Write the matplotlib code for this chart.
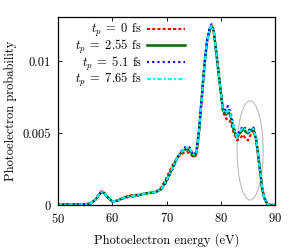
import matplotlib
matplotlib.use("Agg")
import matplotlib.pyplot as plt
from matplotlib.patches import Ellipse

plt.rcParams["font.family"] = "serif"
plt.rcParams["font.serif"] = ["cmr10"]
plt.rcParams["mathtext.fontset"] = "cm"
plt.rcParams["axes.formatter.use_mathtext"] = True
plt.rcParams["font.size"] = 9

# Photoelectron energy grid (eV)
energy = [50, 52, 54, 55, 56, 57, 57.5, 58, 58.5, 59, 60, 61, 62, 63, 64, 65,
          66, 67, 68, 69, 70, 71, 72, 73, 73.7, 74.3, 75, 75.5, 76, 76.5, 77,
          77.5, 78, 78.3, 78.7, 79.2, 79.8, 80.4, 81, 81.3, 81.8, 82.4, 83,
          83.5, 84.1, 84.6, 85, 85.5, 86, 86.5, 86.9, 87.3, 87.6, 88, 88.5,
          89, 90]

# t_p = 2.55 fs
prob_255 = [0.00003, 0.00004, 0.00005, 0.00006, 0.0001, 0.0004, 0.0007, 0.0009,
            0.00085, 0.0006, 0.00025, 0.0003, 0.0005, 0.0006, 0.00065, 0.0007,
            0.0008, 0.00085, 0.0009, 0.0011, 0.0017, 0.0025, 0.0033, 0.0038,
            0.0039, 0.0038, 0.0034, 0.0036, 0.0052, 0.0075, 0.0098, 0.0115,
            0.0123, 0.0125, 0.0121, 0.0105, 0.0085, 0.0066, 0.0063, 0.0066,
            0.0062, 0.0052, 0.0047, 0.0050, 0.0053, 0.0051, 0.0050, 0.0052,
            0.0053, 0.0046, 0.0034, 0.0022, 0.0012, 0.0005, 0.0001, 0.0, 0.0]

# t_p = 0 fs
prob_0 = [0.00003, 0.00004, 0.00005, 0.00006, 0.0001, 0.0004, 0.0007, 0.00095,
          0.0009, 0.0006, 0.00025, 0.0003, 0.0005, 0.00065, 0.0007, 0.00072,
          0.0008, 0.00085, 0.0009, 0.0012, 0.0019, 0.0027, 0.0033, 0.0036,
          0.0037, 0.0036, 0.0033, 0.0035, 0.0051, 0.0075, 0.0098, 0.0115,
          0.0122, 0.0124, 0.0121, 0.0106, 0.0086, 0.0065, 0.0060, 0.0060,
          0.0058, 0.0050, 0.0045, 0.0046, 0.0049, 0.0046, 0.0045, 0.0049,
          0.0052, 0.0046, 0.0034, 0.0022, 0.0012, 0.0005, 0.0001, 0.0, 0.0]

# t_p = 5.1 fs
prob_51 = [0.00003, 0.00004, 0.00005, 0.00006, 0.0001, 0.0004, 0.0007, 0.00088,
           0.00085, 0.0006, 0.00025, 0.0003, 0.00045, 0.00055, 0.0006, 0.00068,
           0.0008, 0.00085, 0.0009, 0.0011, 0.0016, 0.0024, 0.0033, 0.0039,
           0.0041, 0.0040, 0.0035, 0.0037, 0.0053, 0.0076, 0.0099, 0.0116,
           0.0124, 0.0126, 0.0122, 0.0105, 0.0085, 0.0067, 0.0066, 0.0069,
           0.0065, 0.0054, 0.0048, 0.0052, 0.0055, 0.0053, 0.0052, 0.0053,
           0.0054, 0.0046, 0.0034, 0.0022, 0.0012, 0.0005, 0.0001, 0.0, 0.0]

# t_p = 7.65 fs
prob_765 = [0.00003, 0.00004, 0.00005, 0.00006, 0.0001, 0.0004, 0.0007, 0.0009,
            0.00085, 0.0006, 0.00025, 0.0003, 0.0005, 0.0006, 0.00065, 0.0007,
            0.0008, 0.00085, 0.0009, 0.0011, 0.0017, 0.0025, 0.0033, 0.0038,
            0.0040, 0.0039, 0.0035, 0.0036, 0.0052, 0.0075, 0.0098, 0.0115,
            0.0123, 0.0125, 0.0121, 0.0105, 0.0085, 0.0066, 0.0064, 0.0067,
            0.0063, 0.0053, 0.0047, 0.0051, 0.0054, 0.0052, 0.0051, 0.0052,
            0.0053, 0.0046, 0.0034, 0.0022, 0.0012, 0.0005, 0.0001, 0.0, 0.0]

labels = [r"$t_p\;=\;0$ fs", r"$t_p\;=\;2.55$ fs", r"$t_p\;=\;5.1$ fs",
          r"$t_p\;=\;7.65$ fs"]

fig = plt.figure(figsize=(3.0, 2.5), dpi=100)
ax = fig.add_axes([0.193, 0.18, 0.724, 0.752])

ax.plot(energy, prob_0, color="red", lw=1.5, ls=(0, (1.5, 1)), label=labels[0])
ax.plot(energy, prob_255, color="#006400", lw=1.8, ls="-", label=labels[1])
ax.plot(energy, prob_51, color="blue", lw=1.5, ls=(0, (1, 1.5)), label=labels[2])
ax.plot(energy, prob_765, color="cyan", lw=1.5, ls=(0, (2, 1, 1, 1)), label=labels[3])

# highlight region
ax.add_patch(Ellipse((85.4, 0.0038), 4.8, 0.0069, fill=False, ec="#bbbbbb", lw=0.8))

ax.set_xlim(50, 90)
ax.set_ylim(0, 0.0131)
ax.set_xticks([50, 60, 70, 80, 90])
ax.set_yticks([0, 0.005, 0.01])
ax.set_yticklabels(["0", "0.005", "0.01"])
ax.tick_params(direction="in", top=True, right=True, length=3, width=0.6, pad=5)
for s in ax.spines.values():
    s.set_linewidth(0.9)

ax.set_xlabel("Photoelectron energy (eV)", labelpad=5)
ax.set_ylabel("Photoelectron probability", labelpad=4)

ax.legend(loc="upper right", bbox_to_anchor=(0.608, 1.0), frameon=False,
          markerfirst=False, handlelength=3.0, handletextpad=0.45,
          labelspacing=-0.1, borderaxespad=0.0)

fig.savefig("out.png", dpi=100)
